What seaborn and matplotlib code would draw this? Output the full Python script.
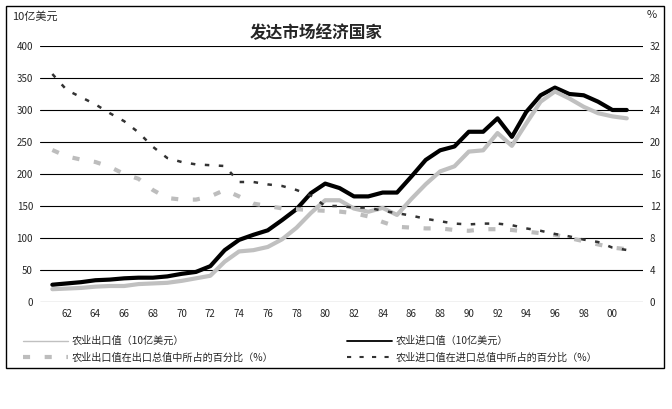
import pandas as pd
import numpy as np
import matplotlib
matplotlib.use('Agg')
import matplotlib.pyplot as plt
from matplotlib.lines import Line2D
from matplotlib.patches import Rectangle
import seaborn as sns

sns.set_style('white')
plt.rcParams['font.family'] = ['Noto Sans CJK SC', 'DejaVu Sans']
plt.rcParams['axes.unicode_minus'] = False

# data (1961-2001)
years = list(range(1961, 2002))
export_value = [20, 21, 22, 24, 25, 25, 28, 29, 30, 33,
                37, 41, 63, 79, 81, 86, 98, 116, 139, 159,
                159, 146, 141, 147, 136, 161, 184, 204, 212, 235,
                237, 264, 244, 279, 313, 329, 318, 305, 295, 290,
                287]
import_value = [27, 29, 31, 34, 35, 37, 38, 38, 40, 44,
                47, 56, 81, 97, 105, 112, 128, 145, 170, 185,
                178, 165, 165, 171, 171, 196, 222, 237, 243, 266,
                266, 287, 258, 297, 323, 335, 325, 323, 313, 300,
                300]
export_share = [19.0, 18.2, 17.8, 17.5, 16.9, 16.0, 15.4, 14.0, 13.0, 12.8,
                12.8, 13.2, 14.0, 13.2, 12.3, 12.0, 11.7, 11.6, 11.5, 11.4,
                11.3, 11.1, 10.7, 10.0, 9.4, 9.3, 9.2, 9.2, 9.0, 8.9,
                9.1, 9.1, 9.0, 8.8, 8.6, 8.4, 8.0, 7.6, 7.2, 6.8,
                6.6]
import_share = [28.5, 26.5, 25.6, 24.7, 23.6, 22.6, 21.2, 19.4, 18.0, 17.5,
                17.2, 17.1, 17.0, 15.0, 15.0, 14.7, 14.5, 14.0, 13.3, 12.0,
                12.0, 11.8, 11.8, 11.4, 11.1, 10.8, 10.4, 10.1, 9.8, 9.7,
                9.8, 9.8, 9.6, 9.2, 8.9, 8.5, 8.2, 7.8, 7.5, 6.8,
                6.5]
year_ticks = list(range(1962, 2001, 2))
year_labels = ['62', '64', '66', '68', '70', '72', '74', '76', '78', '80',
               '82', '84', '86', '88', '90', '92', '94', '96', '98', '00']
value_ticks = [0, 50, 100, 150, 200, 250, 300, 350, 400]
share_ticks = [0, 4, 8, 12, 16, 20, 24, 28, 32]

df = pd.DataFrame({'year': years, 'export_value': export_value,
                   'import_value': import_value, 'export_share': export_share,
                   'import_share': import_share})

W, H = 672, 409
fig = plt.figure(figsize=(6.72, 4.09), dpi=100)
ax = fig.add_axes([40 / W, 1 - 302 / H, (643 - 40) / W, (302 - 46) / H])
ax2 = ax.twinx()

sns.lineplot(data=df, x='year', y='import_value', ax=ax, color='black', linewidth=3)
sns.lineplot(data=df, x='year', y='export_value', ax=ax, color='#c0c0c0', linewidth=3)
sns.lineplot(data=df, x='year', y='export_share', ax=ax2, color='#bdbdbd',
             linewidth=3, linestyle=(0, (1.7, 3.5)))
sns.lineplot(data=df, x='year', y='import_share', ax=ax2, color='#333333',
             linewidth=1.8, linestyle=(0, (1.8, 3.8)))

ax.set_xlim(1960.14, 2002.13)
ax.set_ylim(0, 400)
ax2.set_ylim(0, 32)
ax.set_yticks(value_ticks)
ax2.set_yticks(share_ticks)
ax.set_xticks(year_ticks, year_labels)
ax.grid(axis='y', color='black', linewidth=0.8)
ax.grid(axis='x', visible=False)
for a in (ax, ax2):
    a.set_xlabel('')
    a.set_ylabel('')
    a.tick_params(length=0, labelsize=7, pad=5)
    for s in a.spines.values():
        s.set_visible(False)

# legends
h_left = [Line2D([], [], color='#c0c0c0', linewidth=1),
          Line2D([], [], color='#bdbdbd', linewidth=3, linestyle=(0, (1.7, 3.5)))]
h_right = [Line2D([], [], color='black', linewidth=1.3),
           Line2D([], [], color='#333333', linewidth=1.5, linestyle=(0, (2, 4)))]
leg_kw = dict(loc='upper left', frameon=False, fontsize=7.3, handlelength=4.4,
              handletextpad=0.4, borderpad=0, borderaxespad=0, labelspacing=0.65)
fig.legend(h_left, ['农业出口值（10亿美元）', '农业出口值在出口总值中所占的百分比（%）'],
           bbox_to_anchor=(23 / W, 1 - 336 / H), **leg_kw)
fig.legend(h_right, ['农业进口值（10亿美元）', '农业进口值在进口总值中所占的百分比（%）'],
           bbox_to_anchor=(347 / W, 1 - 336 / H), **leg_kw)

fig.text(12 / W, 1 - 17 / H, '10亿美元', fontsize=8, ha='left', va='center')
fig.text(652 / W, 1 - 15 / H, '%', fontsize=8, ha='center', va='center')
fig.text(316 / W, 1 - 33 / H, '发达市场经济国家', fontsize=12, fontweight='bold',
         ha='center', va='center')

fig.add_artist(Rectangle((6 / W, 1 - 368 / H), (664 - 6) / W, (368 - 6) / H,
                         transform=fig.transFigure, fill=False, ec='black', lw=1))

fig.savefig('out.png', dpi=100, facecolor='white')
